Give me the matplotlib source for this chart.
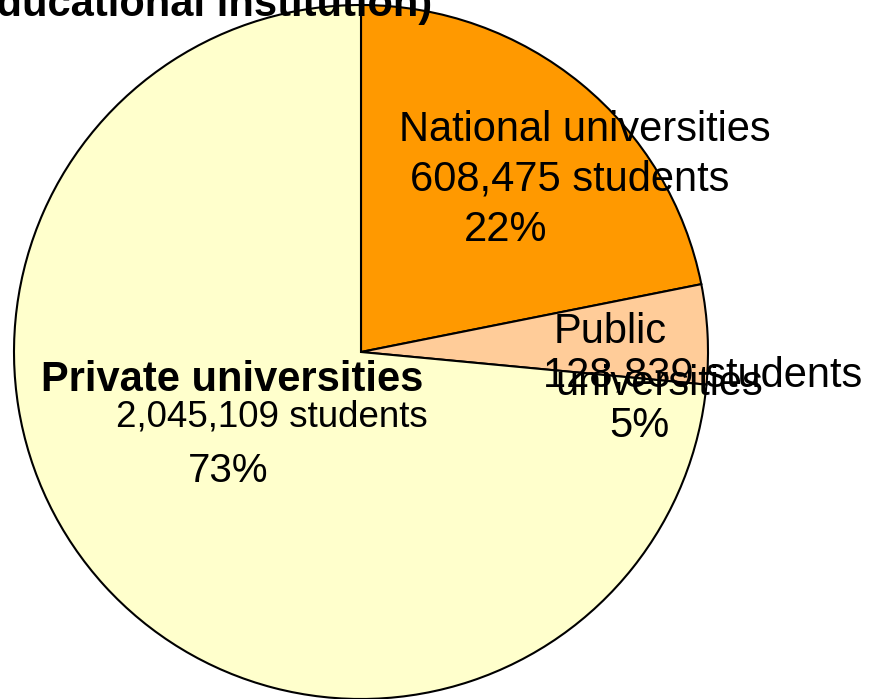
import matplotlib
matplotlib.use("Agg")
import matplotlib.pyplot as plt

plt.rcParams['font.family'] = ['Liberation Sans', 'DejaVu Sans']

categories = ["National universities", "Public universities", "Private universities"]
students = [608475, 128839, 2045109]
student_labels = ["608,475 students", "128,839 students", "2,045,109 students"]
pct_labels = ["22%", "5%", "73%"]
colors = ["#FF9900", "#FFCC99", "#FFFFCC"]
title = "Number of students (by type of educational institution)"

W, H = 870, 699
fig = plt.figure(figsize=(W / 100, H / 100), dpi=100)

cx, cy, r = 361, 352, 347
ax = fig.add_axes([(cx - r) / W, 1 - (cy + r) / H, 2 * r / W, 2 * r / H])
ax.pie(students, colors=colors, startangle=90, counterclock=False, radius=1,
       wedgeprops=dict(edgecolor="black", linewidth=1.5))
ax.set_xlim(-1, 1)
ax.set_ylim(-1, 1)
ax.set_aspect('equal')
ax.axis('off')

def ftext(x, y, s, **kw):
    fig.text(x / W, 1 - y / H, s, ha='center', va='center', **kw)

fs = 30
# Title (mostly cut off at the top)
fig.text(432 / W, 1 - 16 / H, title, ha='right', va='baseline',
         fontsize=fs, fontweight='bold')

# National
ftext(585, 130, categories[0], fontsize=fs)
ftext(570, 180, student_labels[0], fontsize=fs)
ftext(506, 230, pct_labels[0], fontsize=fs)

# Public
ftext(610, 332, "Public", fontsize=fs)
ftext(703, 375, student_labels[1], fontsize=fs)
ftext(659, 384, "universities", fontsize=fs)
ftext(639, 426, pct_labels[1], fontsize=fs)

# Private
ftext(232, 380, categories[2], fontsize=fs, fontweight='bold')
ftext(272, 417, student_labels[2], fontsize=26.5)
ftext(228, 471, pct_labels[2], fontsize=29)

fig.savefig("out.png", dpi=100)
